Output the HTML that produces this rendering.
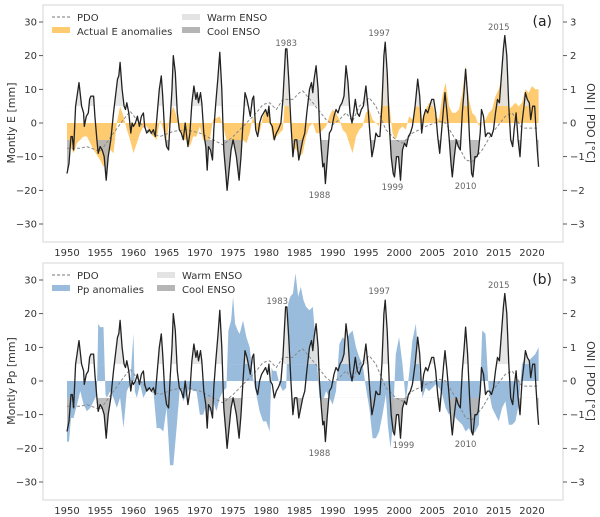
<!DOCTYPE html>
<html><head><meta charset="utf-8">
<style>
html,body{margin:0;padding:0;background:#fff;}
svg{display:block;font-family:"DejaVu Sans","Liberation Sans",sans-serif;}
</style></head>
<body>
<svg id="chart" width="600" height="517" viewBox="0 0 600 517"></svg>
<script>
const oniYears=[1950,1950.3,1950.6,1950.8,1951,1951.3,1951.8,1952.2,1952.5,1952.6,1952.9,1953.2,1953.4,1953.6,1954,1954.2,1954.5,1954.7,1955,1955.3,1955.6,1955.9,1956.2,1956.6,1957,1957.3,1957.6,1957.8,1958,1958.3,1958.6,1958.8,1959,1959.3,1959.6,1959.8,1960,1960.3,1960.6,1960.9,1961.2,1961.5,1961.7,1962,1962.4,1962.7,1963,1963.3,1963.6,1963.9,1964.2,1964.4,1964.7,1965,1965.3,1965.5,1965.8,1966,1966.3,1966.6,1966.9,1967.2,1967.5,1967.8,1968.2,1968.5,1968.8,1969.1,1969.4,1969.6,1969.8,1970.1,1970.3,1970.6,1970.9,1971.1,1971.3,1971.6,1971.9,1972.1,1972.4,1972.7,1973,1973.3,1973.6,1973.9,1974.1,1974.4,1974.7,1975,1975.3,1975.5,1975.9,1976.2,1976.5,1976.8,1977.1,1977.4,1977.6,1977.9,1978.1,1978.4,1978.7,1979,1979.3,1979.6,1979.9,1980.2,1980.4,1980.6,1980.9,1981.2,1981.5,1981.8,1982.2,1982.5,1982.9,1983.1,1983.4,1983.7,1984,1984.3,1984.6,1984.9,1985.2,1985.5,1985.8,1986.1,1986.5,1986.8,1987,1987.2,1987.5,1987.8,1988,1988.3,1988.5,1988.7,1988.9,1989.2,1989.5,1989.8,1990.2,1990.5,1990.8,1991.1,1991.4,1991.7,1992,1992.3,1992.6,1992.9,1993.2,1993.4,1993.7,1994,1994.3,1994.6,1995,1995.3,1995.6,1995.9,1996.2,1996.5,1996.8,1997.1,1997.4,1997.7,1997.9,1998.2,1998.5,1998.8,1999.1,1999.3,1999.6,1999.9,2000.2,2000.5,2000.8,2001.1,2001.4,2001.7,2002,2002.4,2002.8,2003.1,2003.4,2003.7,2004,2004.3,2004.6,2004.9,2005.2,2005.5,2005.8,2006.1,2006.4,2006.7,2006.9,2007.2,2007.5,2007.8,2008,2008.3,2008.6,2008.9,2009.2,2009.5,2009.8,2010,2010.3,2010.6,2010.9,2011.1,2011.4,2011.7,2011.9,2012.2,2012.4,2012.7,2013,2013.3,2013.6,2013.9,2014.2,2014.5,2014.8,2015.1,2015.4,2015.7,2015.9,2016.2,2016.5,2016.8,2017.1,2017.3,2017.6,2017.9,2018.2,2018.5,2018.8,2019,2019.3,2019.6,2019.8,2020.1,2020.4,2020.6,2020.8,2021];
const oniValues=[-1.5,-1.2,-0.4,-0.4,-0.8,0.5,1.2,0.5,0.3,-0.1,0.2,0.3,0.7,0.8,0.8,0.2,-0.5,-0.9,-0.7,-0.8,-1.0,-1.7,-1.0,-0.5,0.3,0.8,1.3,1.4,1.8,1.0,0.5,0.4,0.6,0.3,-0.3,0.0,-0.1,0.0,0.2,-0.1,0.2,0.3,-0.1,-0.3,-0.2,-0.3,-0.2,-0.4,0.3,1.0,1.4,0.8,-0.3,-0.7,-0.8,0.0,1.0,2.0,1.5,0.3,-0.2,-0.3,-0.5,0.0,-0.7,-0.3,0.6,1.1,0.7,0.9,0.6,0.9,0.6,-0.3,-0.7,-1.4,-0.7,-0.8,-1.1,-0.2,0.6,1.3,2.1,1.0,-0.8,-1.5,-2.0,-1.4,-0.8,-0.5,-0.8,-1.0,-1.7,-1.0,0.0,0.9,0.7,0.4,0.2,0.7,0.8,-0.2,-0.4,0.0,0.2,0.3,0.4,0.2,0.5,0.0,-0.1,-0.5,-0.3,-0.2,0.0,0.7,2.2,2.2,1.2,0.0,-1.0,-0.5,-0.5,-1.1,-0.8,-0.5,-0.3,0.3,1.0,1.2,0.9,1.3,1.7,1.0,0.0,-0.8,-1.3,-1.2,-1.8,-1.0,-0.3,-0.2,0.2,0.4,0.3,0.5,0.6,0.8,1.7,1.2,0.3,0.0,0.4,0.7,0.3,0.2,0.4,0.5,1.1,0.5,-0.3,-1.0,-0.7,-0.3,-0.4,-0.4,0.5,2.0,2.4,1.5,0.0,-1.0,-1.5,-1.6,-1.0,-1.0,-1.7,-0.8,-0.6,-0.7,-0.4,-0.3,-0.1,0.5,1.3,0.8,-0.3,0.2,0.4,0.3,0.5,0.7,0.7,0.3,-0.4,-0.9,-0.2,0.5,0.9,0.3,-0.4,-1.2,-1.6,-1.0,-0.5,-0.7,-0.8,0.3,1.0,1.6,0.8,-0.5,-1.5,-1.6,-1.0,-1.0,-0.9,-0.3,0.4,0.2,-0.4,-0.3,-0.3,-0.4,-0.2,0.3,0.7,0.6,1.4,2.2,2.6,2.0,0.5,-0.5,-0.7,-0.2,0.3,-0.5,-1.0,0.0,0.5,0.9,0.7,0.6,0.1,0.5,0.5,-0.2,-0.8,-1.3];
const pdoYears=[1950,1952,1953,1955,1957,1958.5,1959.5,1960.5,1961.5,1962.5,1964,1966,1968,1970,1972,1973.5,1975,1977,1978.5,1979.5,1980.5,1981.5,1982.5,1984,1985,1985.5,1987,1989,1990,1991,1992,1993,1994,1995.5,1996.5,1998,1999.5,2000.5,2002,2004,2006,2007,2008.5,2010,2011,2012.5,2014,2016,2017,2018,2018.5,2021];
const pdoValues=[-0.75,-0.75,-0.7,-0.85,-0.3,0.1,0.35,0.1,-0.1,-0.3,-0.4,-0.25,-0.2,-0.3,-0.5,-0.65,-0.4,0.0,0.3,0.55,0.6,0.4,0.7,0.7,0.9,0.95,0.6,0.1,-0.05,0.1,0.3,0.05,0.5,0.75,0.5,-0.2,-0.5,-0.6,-0.3,-0.1,0.05,0.0,-0.5,-1.1,-1.15,-0.8,-0.3,0.2,0.3,0.0,-0.15,-0.15];
const eYears=[1950,1950.5,1951,1951.5,1952,1952.5,1953,1953.5,1954,1955,1955.5,1956,1956.5,1957,1957.5,1958,1958.5,1959,1959.5,1960,1960.5,1961,1961.5,1962,1962.5,1963,1963.5,1964,1964.5,1965,1965.5,1966,1966.5,1967,1967.5,1968,1968.5,1969,1969.5,1970,1970.5,1971,1971.5,1972,1972.5,1973,1973.5,1974,1975,1975.5,1976,1976.5,1977,1977.5,1978,1978.5,1979,1979.5,1980,1980.5,1981,1981.5,1982,1982.5,1983,1983.5,1984,1984.5,1985,1985.5,1986,1986.5,1987,1987.5,1988,1988.5,1989,1989.5,1990,1990.5,1991,1991.5,1992,1992.5,1993,1993.5,1994,1994.5,1995,1995.5,1996,1996.5,1997,1997.5,1998,1998.5,1999,1999.5,2000,2000.5,2001,2001.5,2002,2002.5,2003,2003.5,2004,2004.5,2005,2005.5,2006,2006.5,2007,2007.5,2008,2008.5,2009,2009.5,2010,2010.5,2011,2011.5,2012,2012.5,2013,2013.5,2014,2014.5,2015,2015.5,2015.8,2016.2,2016.5,2017,2017.5,2018,2018.5,2019,2019.5,2020,2020.5,2021];
const eValues=[-5,-7,-9,-6,-5,-4,-4,-6,-8,-11,-13,-12,-8,-9,0,5,2,-2,-5,-9,-6,-3,-1,-1,-3,-4,-5,1,-2,-5,2,5,2,-2,-5,-5,-7,-4,-4,-1,-5,-6,-5,1,1.5,2,-1,-5,-6,-8,-9,-5,-6,-3,2,-2,-3,2,4,2,-5,-4,-3,-2,13,3,-7,-8,-10,-9,-4,-1,0,-3,-3,-2,-1,2,4,3,1,-2,-3,-6,-9,-4,-2,-1,3,4,1,0,-1,11,17,6,-3,-5,-2,-1,-2,2,1,5,5,1,4,6,6,2,1,8,12,5,3,3,4,9,17,7,3,2,-1,0,1,3,4,8,10,14,18,9,4,5,6,5,6,10,9,11,10,10];
const pYears=[1950,1950.3,1950.6,1951,1951.5,1952,1952.5,1953,1953.5,1954,1954.5,1954.7,1955,1955.5,1955.8,1956,1956.5,1957,1957.5,1958,1958.5,1959,1959.5,1960,1960.2,1960.5,1961,1961.5,1962,1962.5,1963,1963.5,1964,1964.5,1965,1965.5,1966,1966.5,1967,1967.5,1968,1968.5,1969,1969.5,1970,1970.5,1971,1971.5,1972,1972.5,1973,1973.5,1974,1974.3,1974.7,1975,1975.3,1975.7,1976,1976.5,1977,1977.5,1978,1978.5,1979,1979.5,1980,1980.5,1980.8,1981,1981.5,1982,1982.5,1983,1983.3,1983.6,1984,1984.4,1984.8,1985.2,1985.6,1986,1986.5,1987,1987.5,1988,1988.5,1989,1989.5,1990,1990.5,1991,1991.5,1992,1992.5,1993,1993.5,1994,1994.5,1995,1995.5,1996,1996.5,1997,1997.5,1998,1998.3,1998.7,1999,1999.5,2000,2000.5,2001,2001.5,2002,2002.5,2003,2003.5,2004,2004.5,2005,2005.5,2006,2006.5,2007,2007.5,2008,2008.5,2009,2009.5,2010,2010.5,2011,2011.5,2012,2012.5,2013,2013.5,2014,2014.5,2015,2015.5,2016,2016.5,2017,2017.5,2018,2018.5,2019,2019.5,2020,2020.5,2021];
const pValues=[-18,-18,-11,-11,-7,-3,-7,-9,-8,-6,-4,17,16,16,-4,-5,-3,-5,-8,-5,-14,-3,-1,14,-3,-5,-1,-5,-3,-2,-3,-14,-14,-15,-8,-25,-25,-14,-2,-6,-4,-2,-3,-3,-10,-10,-7,-9,-6,-9,-5,-3,-2,15,18,25,17,15,14,18,13,10,1,-4,-9,-12,-12,-15,4,3,3,-1,-3,-2,23,25,26,32,25,28,24,22,21,22,10,-5,-6,-3,-5,-7,-3,11,13,12,14,15,10,7,5,-2,-8,-17,-17,-15,-10,-4,-13,-20,-14,8,13,5,-6,2,12,17,5,-5,-2,-3,-2,-1,-2,-4,-8,-10,-8,-11,-12,-13,-15,-14,-16,-15,-13,15,14,-3,-8,-10,-12,-8,-6,-13,-13,-12,-7,5,7,6,7,8,10];
const leftTicks=[30,20,10,0,-10,-20,-30];
const rightTicks=[3,2,1,0,-1,-2,-3];
const xTicks=[1950,1955,1960,1965,1970,1975,1980,1985,1990,1995,2000,2005,2010,2015,2020];
const annYears=[1983,1997,2015,1988,1999,2010];
const annValues=[2.28,2.58,2.76,-2.23,-1.99,-1.96];

const NS="http://www.w3.org/2000/svg";
const svg=document.getElementById('chart');
function mk(tag,attrs,parent){const e=document.createElementNS(NS,tag);for(const k in attrs)e.setAttribute(k,attrs[k]);(parent||svg).appendChild(e);return e;}
const L=43,R=563;
const xS=y=>67+(y-1950)*(532-67)/70;
function fmt(v){return v<0?'\u2212'+Math.abs(v):String(v);}

function panel(idx,top,zero,anomY,anomV,color,ylabel,legLabel,tag,warmX,annOffsets){
  const py=mm=>zero-mm*(101/30);
  const pc=c=>py(c*10);
  const g=mk('g',{});
  
  
  const box=mk('rect',{x:L,y:top,width:R-L,height:237,fill:'#fff',stroke:'#ddd','stroke-width':1.2},g);
  
  
  const cid='clip'+tag;
  const cp=mk('clipPath',{id:cid},g);mk('rect',{x:L,y:top,width:R-L,height:237},cp);
  const inner=mk('g',{'clip-path':'url(#'+cid+')'},g);
  let d='M'+xS(anomY[0])+','+py(0);
  anomY.forEach((y,i)=>{d+=' L'+xS(y).toFixed(1)+','+py(anomV[i]).toFixed(1);});
  d+=' L'+xS(anomY[anomY.length-1])+','+py(0)+'Z';
  const af=mk('path',{d:d,fill:color,stroke:'none'},inner);
  
  
  let od='';oniYears.forEach((y,i)=>{od+=(i?' L':'M')+xS(y).toFixed(1)+','+pc(oniValues[i]).toFixed(1);});
  const last=xS(oniYears[oniYears.length-1]),first=xS(oniYears[0]);
  const wc='w'+tag,cc='c'+tag;
  const wcp=mk('clipPath',{id:wc},g);mk('rect',{x:L,y:top,width:R-L,height:pc(0.5)-top},wcp);
  const ccp=mk('clipPath',{id:cc},g);mk('rect',{x:L,y:pc(-0.5),width:R-L,height:top+237-pc(-0.5)},ccp);
  const wf=mk('path',{d:od+' L'+last+','+pc(0.5)+' L'+first+','+pc(0.5)+'Z',fill:'#e3e3e3','fill-opacity':0.9,'clip-path':'url(#'+wc+')'},inner);
  
  
  const cf=mk('path',{d:od+' L'+last+','+pc(-0.5)+' L'+first+','+pc(-0.5)+'Z',fill:'#b5b5b5','fill-opacity':0.9,'clip-path':'url(#'+cc+')'},inner);
  
  
  let pd='';pdoYears.forEach((y,i)=>{pd+=(i?' L':'M')+xS(y).toFixed(1)+','+pc(pdoValues[i]).toFixed(1);});
  const pl=mk('path',{d:pd,fill:'none',stroke:'#888','stroke-width':1,'stroke-dasharray':'3,2'},inner);
  
  
  const ol=mk('path',{d:od,fill:'none',stroke:'#222','stroke-width':1.3,'stroke-linejoin':'round'},inner);
  
  
  leftTicks.forEach(v=>{
    mk('line',{x1:L-4,x2:L,y1:py(v),y2:py(v),stroke:'#333','stroke-width':0.8},g);
    const t=mk('text',{x:L-6,y:py(v)+3.5,'font-size':10,fill:'#333','text-anchor':'end'},g);t.textContent=fmt(v);
    
    
  });
  rightTicks.forEach(v=>{
    mk('line',{x1:R,x2:R+4,y1:pc(v),y2:pc(v),stroke:'#333','stroke-width':0.8},g);
    const t=mk('text',{x:R+7,y:pc(v)+3.5,'font-size':10,fill:'#333'},g);t.textContent=fmt(v);
    
    
  });
  xTicks.forEach(v=>{
    const t=mk('text',{x:xS(v),y:top+247+4,'font-size':10,fill:'#333','text-anchor':'middle'},g);t.textContent=v;
    
    
  });
  const yl=mk('text',{x:0,y:0,'font-size':11,fill:'#333','text-anchor':'middle',transform:'translate(15,'+zero+') rotate(-90)'},g);yl.textContent=ylabel;
  
  
  const yr=mk('text',{x:0,y:0,'font-size':11,fill:'#333','text-anchor':'middle',transform:'translate(587,'+zero+') rotate(90)'},g);yr.textContent='ONI | PDO [°C]';
  
  
  annYears.forEach((y,i)=>{
    const t=mk('text',{x:xS(y)+annOffsets[i],y:pc(annValues[i]),'font-size':8.5,fill:'#666','text-anchor':'middle'},g);t.textContent=y;
    
    
  });
  const pt=mk('text',{x:552,y:top+21,'font-size':14,fill:'#222','text-anchor':'end'},g);pt.textContent='('+tag+')';
  
  
  const lg=mk('g',{},g);
  
  
  mk('line',{x1:52,x2:70,y1:top+12,y2:top+12,stroke:'#777','stroke-width':1,'stroke-dasharray':'3,2'},lg);
  let t=mk('text',{x:77,y:top+16,'font-size':10,fill:'#333'},lg);t.textContent='PDO';
  mk('rect',{x:52,y:top+22,width:18,height:6,fill:color},lg);
  t=mk('text',{x:77,y:top+30,'font-size':10,fill:'#333'},lg);t.textContent=legLabel;
  mk('rect',{x:warmX,y:top+9,width:18,height:6,fill:'#e3e3e3'},lg);
  t=mk('text',{x:warmX+25,y:top+16,'font-size':10,fill:'#333'},lg);t.textContent='Warm ENSO';
  mk('rect',{x:warmX,y:top+22,width:18,height:6,fill:'#b5b5b5'},lg);
  t=mk('text',{x:warmX+25,y:top+30,'font-size':10,fill:'#333'},lg);t.textContent='Cool ENSO';
}
panel(0,5,123,eYears,eValues,'#ffcb70','Montly E [mm]','Actual E anomalies','a',182,[0,0,0,0,0,0]);
panel(1,263,381,pYears,pValues,'#9abcdc','Montly Pp [mm]','Pp anomalies','b',157,[-9,0,0,0,11,0]);
</script>
</body></html>
